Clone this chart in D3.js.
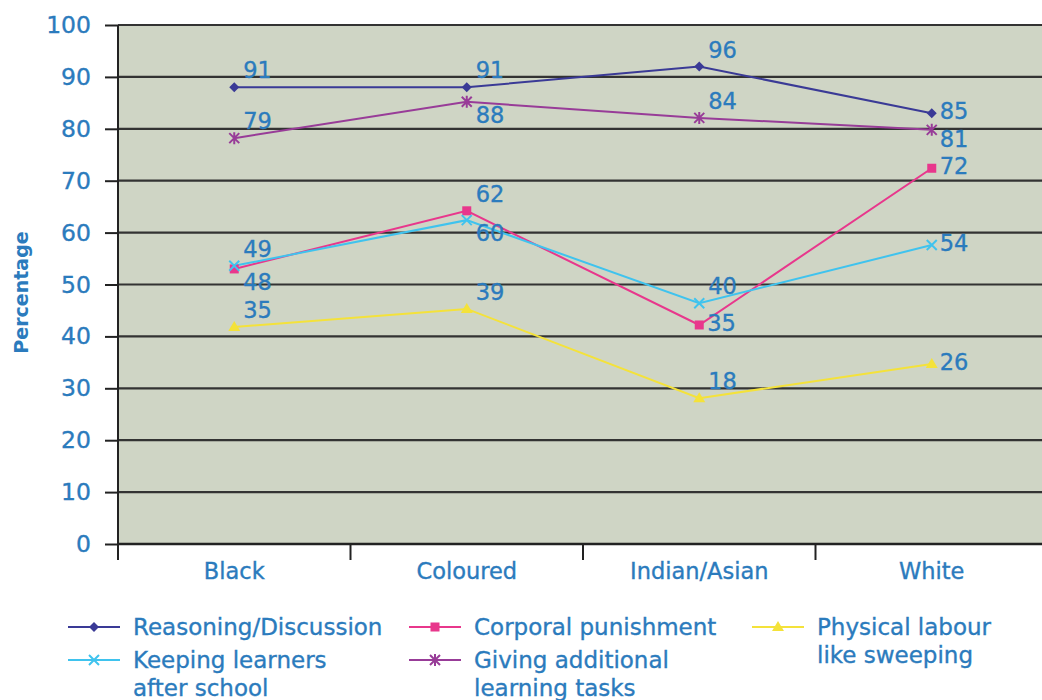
<!DOCTYPE html>
<html>
<head>
<meta charset="utf-8">
<script src="https://cdn.jsdelivr.net/npm/d3@7"></script>
<style>
  html, body { margin: 0; padding: 0; background: #fff; }
  svg { display: block; }
</style>
</head>
<body>
<svg id="chart" width="1042" height="700"></svg>
<script>
// ---- data ----
const categories = ["Black", "Coloured", "Indian/Asian", "White"];
const yTicks = [0, 10, 20, 30, 40, 50, 60, 70, 80, 90, 100];
const seriesNames = ["Reasoning/Discussion", "Corporal punishment", "Physical labour like sweeping",
                     "Keeping learners after school", "Giving additional learning tasks"];
// plotted positions (as drawn in the picture)
const reasoning = [88, 88, 92, 83];
const corporal  = [53, 64.2, 42.2, 72.4];
const physical  = [41.8, 45.3, 28.1, 34.7];
const keeping   = [53.6, 62.4, 46.4, 57.6];
const giving    = [78.2, 85.2, 82.1, 79.8];
// data label texts (as printed in the picture)
const reasoningLabels = [91, 91, 96, 85];
const corporalLabels  = [48, 62, 35, 72];
const physicalLabels  = [35, 39, 18, 26];
const keepingLabels   = [49, 60, 40, 54];
const givingLabels    = [79, 88, 84, 81];

// ---- styling / layout ----
const textBlue = "#2b7bbd";
const font = "'DejaVu Sans', 'Liberation Sans', sans-serif";
const series = [
  { name: seriesNames[0], values: reasoning, labels: reasoningLabels, color: "#3a3a96", marker: "diamond", place: ["a","a","a","r"], legendLines: ["Reasoning/Discussion"] },
  { name: seriesNames[1], values: corporal,  labels: corporalLabels,  color: "#e8378c", marker: "square",  place: ["b","a","r","r"], legendLines: ["Corporal punishment"] },
  { name: seriesNames[2], values: physical,  labels: physicalLabels,  color: "#f4e23a", marker: "triangle",place: ["a","a","a","r"], legendLines: ["Physical labour", "like sweeping"] },
  { name: seriesNames[3], values: keeping,   labels: keepingLabels,   color: "#3fc3ee", marker: "x",       place: ["a","b","a","r"], legendLines: ["Keeping learners", "after school"] },
  { name: seriesNames[4], values: giving,    labels: givingLabels,    color: "#983c98", marker: "star",    place: ["a","b","a","rb"], legendLines: ["Giving additional", "learning tasks"] }
];

const svg = d3.select("#chart");
const plot = { left: 118, right: 1048, top: 25, bottom: 544 };

const x = d3.scaleBand().domain(categories).range([plot.left, plot.right]).padding(0);
const y = d3.scaleLinear().domain([0, 100]).range([plot.bottom, plot.top]);
const cx = c => x(c) + x.bandwidth() / 2;

function styleText(sel, size) {
  return sel.attr("fill", textBlue).attr("font-family", font).attr("font-size", size)
    .attr("stroke", textBlue).attr("stroke-width", 0.35);
}

// background
svg.append("rect")
  .attr("x", plot.left).attr("y", plot.top)
  .attr("width", plot.right - plot.left).attr("height", plot.bottom - plot.top)
  .attr("fill", "#cfd5c5");

// gridlines
svg.append("g").selectAll("line").data(yTicks.filter(t => t > 0)).join("line")
  .attr("x1", plot.left).attr("x2", plot.right)
  .attr("y1", d => y(d)).attr("y2", d => y(d))
  .attr("stroke", "#333").attr("stroke-width", 2.2);

// y axis
const yAxis = svg.append("g").attr("transform", `translate(${plot.left},0)`)
  .call(d3.axisLeft(y).tickValues(yTicks).tickSize(13).tickPadding(14).tickFormat(d3.format("d")));
yAxis.select(".domain").attr("stroke", "#222").attr("stroke-width", 2).attr("d", `M0,${plot.top}V${plot.bottom}`);
yAxis.selectAll(".tick line").attr("stroke", "#222").attr("stroke-width", 2);
styleText(yAxis.selectAll(".tick text"), 23.5);

// x axis
const xAxis = svg.append("g").attr("transform", `translate(0,${plot.bottom})`)
  .call(d3.axisBottom(x).tickSize(0).tickPadding(19));
xAxis.select(".domain").attr("stroke", "#222").attr("stroke-width", 2.5).attr("d", `M${plot.left},0H${plot.right}`);
styleText(xAxis.selectAll(".tick text"), 22.5);
// boundary ticks between categories
svg.append("g").selectAll("line").data(categories).join("line")
  .attr("x1", d => x(d)).attr("x2", d => x(d))
  .attr("y1", plot.bottom).attr("y2", plot.bottom + 16)
  .attr("stroke", "#222").attr("stroke-width", 2);

// y axis title
svg.append("text")
  .attr("transform", `translate(28,${(plot.top + plot.bottom) / 2 + 8}) rotate(-90)`)
  .attr("text-anchor", "middle")
  .attr("fill", textBlue).attr("font-family", font).attr("font-weight", "bold").attr("font-size", 19)
  .text("Percentage");

// marker drawing
function drawMarker(g, type, color, px, py) {
  if (type === "diamond") {
    g.append("path").attr("d", `M${px},${py-5}L${px+5},${py}L${px},${py+5}L${px-5},${py}Z`).attr("fill", color);
  } else if (type === "square") {
    g.append("rect").attr("x", px-4.5).attr("y", py-4.5).attr("width", 9).attr("height", 9).attr("fill", color);
  } else if (type === "triangle") {
    g.append("path").attr("d", `M${px},${py-6}L${px+6},${py+4}L${px-6},${py+4}Z`).attr("fill", color);
  } else if (type === "x") {
    g.append("path").attr("d", `M${px-5},${py-5}L${px+5},${py+5}M${px+5},${py-5}L${px-5},${py+5}`)
      .attr("stroke", color).attr("stroke-width", 2);
  } else if (type === "star") {
    g.append("path").attr("d", `M${px-5},${py-5}L${px+5},${py+5}M${px+5},${py-5}L${px-5},${py+5}M${px},${py-6}L${px},${py+6}`)
      .attr("stroke", color).attr("stroke-width", 2);
  }
}

// lines
const line = d3.line().x((d, i) => cx(categories[i])).y(d => y(d));
const linesG = svg.append("g");
series.forEach(s => {
  linesG.append("path").datum(s.values).attr("d", line)
    .attr("fill", "none").attr("stroke", s.color).attr("stroke-width", 2);
});
const markG = svg.append("g");
series.forEach(s => {
  s.values.forEach((v, i) => drawMarker(markG, s.marker, s.color, cx(categories[i]), y(v)));
});

// data labels
const dyMap = { a: -17, b: 13, r: -2, rb: 9 };
const labG = svg.append("g");
series.forEach(s => {
  s.values.forEach((v, i) => {
    const p = s.place[i];
    styleText(labG.append("text"), 22.5)
      .attr("x", cx(categories[i]) + (p === "r" || p === "rb" ? 8 : 9))
      .attr("y", y(v) + dyMap[p])
      .attr("dy", "0.36em")
      .text(s.labels[i]);
  });
});

// legend
const legendPos = [
  { x: 68, y: 627 }, { x: 409, y: 627 }, { x: 752, y: 627 },
  { x: 68, y: 660 }, { x: 409, y: 660 }
];
const legG = svg.append("g");
series.forEach((s, i) => {
  const p = legendPos[i];
  legG.append("line").attr("x1", p.x).attr("x2", p.x + 52).attr("y1", p.y).attr("y2", p.y)
    .attr("stroke", s.color).attr("stroke-width", 2);
  drawMarker(legG, s.marker, s.color, p.x + 26, p.y);
  const t = styleText(legG.append("text"), 23).attr("x", p.x + 65).attr("y", p.y);
  s.legendLines.forEach((ln, k) => {
    t.append("tspan").attr("x", p.x + 65).attr("dy", k === 0 ? "0.36em" : "1.2em").text(ln);
  });
});
</script>
</body>
</html>
